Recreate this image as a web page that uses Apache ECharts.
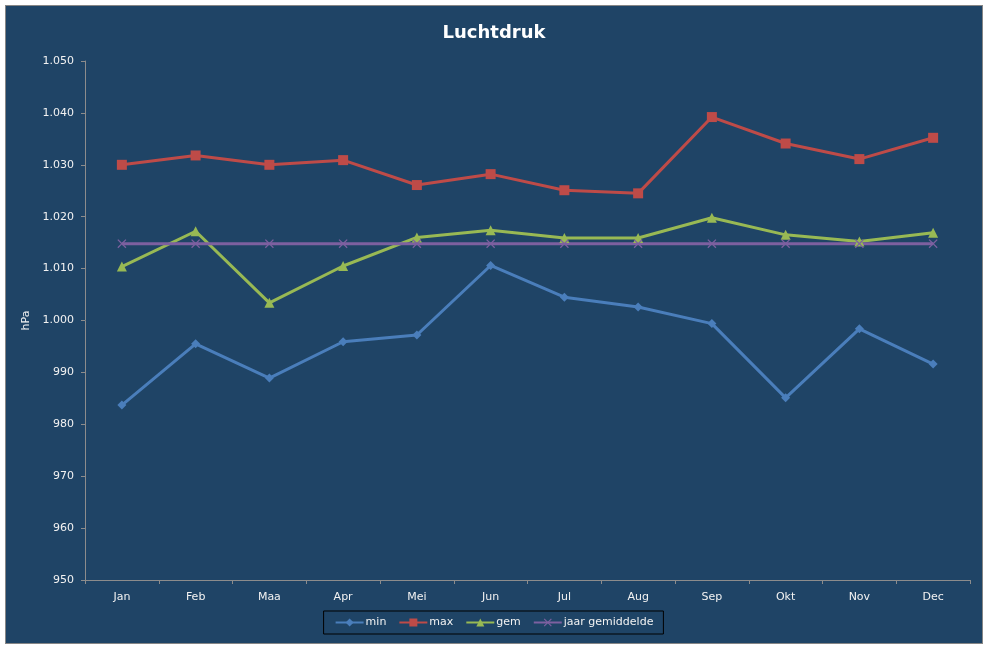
<!DOCTYPE html>
<html>
<head>
<meta charset="utf-8">
<title>Luchtdruk</title>
<script src="https://cdn.jsdelivr.net/npm/echarts@6/dist/echarts.min.js"></script>
<style>
  html, body { margin: 0; padding: 0; background: #ffffff; }
  #chart {
    position: absolute;
    left: 5px;
    top: 5px;
    width: 976px;
    height: 637px;
    border: 1px solid #868686;
    background: #1f4466;
  }
</style>
</head>
<body>
<div id="chart"></div>
<script>
// maanden
const maanden = ['Jan', 'Feb', 'Maa', 'Apr', 'Mei', 'Jun', 'Jul', 'Aug', 'Sep', 'Okt', 'Nov', 'Dec'];
// luchtdruk in hPa
const minData = [983.7, 995.5, 988.9, 995.9, 997.2, 1010.6, 1004.5, 1002.6, 999.4, 985.1, 998.4, 991.6];
const maxData = [1030.0, 1031.8, 1030.0, 1030.9, 1026.1, 1028.2, 1025.1, 1024.5, 1039.2, 1034.1, 1031.1, 1035.2];
const gemData = [1010.4, 1017.2, 1003.4, 1010.5, 1016.0, 1017.4, 1015.9, 1015.9, 1019.8, 1016.5, 1015.2, 1016.9];
const jaarGem = [1014.8, 1014.8, 1014.8, 1014.8, 1014.8, 1014.8, 1014.8, 1014.8, 1014.8, 1014.8, 1014.8, 1014.8];

const fontFam = '"DejaVu Sans", Verdana, sans-serif';
const tekstKleur = '#f2f2f2';
const asKleur = '#8c8c8c';

// kruisje als symbool (zoals in excel)
const kruis = 'path://M0,1L1,0L5,4L9,0L10,1L6,5L10,9L9,10L5,6L1,10L0,9L4,5Z';

// 1.050 notatie
function fmtY(v) {
  if (v >= 1000) {
    return Math.floor(v / 1000) + '.' + String(v % 1000).padStart(3, '0');
  }
  return String(v);
}

function lijn(naam, data, kleur, symbool, grootte) {
  return {
    name: naam,
    type: 'line',
    data: data,
    symbol: symbool,
    symbolSize: grootte,
    showAllSymbol: true,
    lineStyle: { color: kleur, width: 3 },
    itemStyle: { color: kleur },
    emphasis: { disabled: true },
    animation: false
  };
}

const chart = echarts.init(document.getElementById('chart'));
chart.setOption({
  backgroundColor: '#1f4466',
  textStyle: { fontFamily: fontFam },
  title: {
    text: 'Luchtdruk',
    left: 'center',
    top: 13,
    textStyle: { color: '#ffffff', fontSize: 18, fontWeight: 'bold', fontFamily: fontFam }
  },
  grid: {
    left: 79,
    right: 12,
    top: 55,
    bottom: 63
  },
  legend: {
    data: ['min', 'max', 'gem', 'jaar gemiddelde'],
    left: 'center',
    top: 605,
    padding: [6, 10, 6, 11],
    itemWidth: 28,
    itemHeight: 10,
    itemGap: 12,
    borderColor: '#000000',
    borderWidth: 1,
    borderRadius: 0,
    textStyle: { color: tekstKleur, fontSize: 11, padding: [0, 0, 0, -3] }
  },
  xAxis: {
    type: 'category',
    data: maanden,
    boundaryGap: true,
    axisLine: { lineStyle: { color: asKleur, width: 1 } },
    axisTick: { show: true, inside: false, length: 4, alignWithLabel: false, lineStyle: { color: asKleur } },
    axisLabel: { color: tekstKleur, fontSize: 11, margin: 12 },
    splitLine: { show: false }
  },
  yAxis: {
    type: 'value',
    name: 'hPa',
    nameLocation: 'middle',
    nameGap: 48,
    nameRotate: 90,
    nameTextStyle: { color: tekstKleur, fontSize: 11 },
    min: 950,
    max: 1050,
    interval: 10,
    axisLine: { show: true, lineStyle: { color: asKleur, width: 1 } },
    axisTick: { show: true, length: 4, lineStyle: { color: asKleur } },
    axisLabel: { color: tekstKleur, fontSize: 11, margin: 11, formatter: fmtY },
    splitLine: { show: false }
  },
  series: [
    lijn('min', minData, '#4a7ebb', 'diamond', 9),
    lijn('max', maxData, '#be4b48', 'rect', 10),
    lijn('gem', gemData, '#98b954', 'triangle', 10),
    lijn('jaar gemiddelde', jaarGem, '#7d60a0', kruis, 9)
  ]
});
</script>
</body>
</html>
